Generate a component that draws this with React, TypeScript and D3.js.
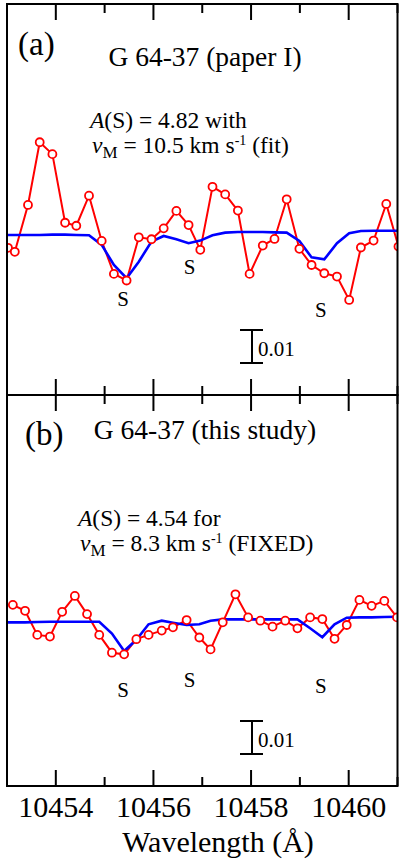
import React, { useEffect, useRef } from 'react';
import * as d3 from 'd3';

// wavelength grid (Å) and normalised flux
const wlA = [10453.02, 10453.16, 10453.43, 10453.67, 10453.93, 10454.19, 10454.42, 10454.68, 10454.94, 10455.19, 10455.45, 10455.70, 10455.96, 10456.21, 10456.47, 10456.72, 10456.96, 10457.21, 10457.47, 10457.73, 10457.97, 10458.24, 10458.48, 10458.73, 10458.99, 10459.24, 10459.50, 10459.76, 10460.01, 10460.25, 10460.51, 10460.77, 10461.02];
const obsA = [0.9956, 0.9944, 1.0086, 1.0276, 1.0240, 1.0032, 1.0023, 1.0114, 0.9977, 0.9877, 0.9857, 0.9988, 0.9982, 1.0015, 1.0068, 1.0025, 0.9950, 1.0141, 1.0118, 1.0069, 0.9877, 0.9963, 0.9983, 1.0103, 0.9953, 0.9904, 0.9879, 0.9869, 0.9798, 0.9957, 0.9978, 1.0089, 0.9960];
const modelA = [0.9995, 0.9995, 0.9995, 0.9995, 0.9996, 0.9996, 0.9995, 0.9994, 0.9965, 0.9904, 0.9864, 0.9914, 0.9975, 0.9992, 0.9982, 0.9970, 0.9978, 0.9994, 1.0002, 1.0004, 1.0004, 1.0004, 1.0003, 1.0002, 0.9977, 0.9927, 0.9921, 0.9970, 1.0000, 1.0007, 1.0008, 1.0008, 1.0008];

const wlB = [10453.12, 10453.37, 10453.62, 10453.88, 10454.13, 10454.39, 10454.64, 10454.89, 10455.15, 10455.40, 10455.65, 10455.90, 10456.17, 10456.40, 10456.68, 10456.94, 10457.17, 10457.42, 10457.68, 10457.94, 10458.19, 10458.44, 10458.70, 10458.95, 10459.21, 10459.46, 10459.71, 10459.96, 10460.22, 10460.47, 10460.73, 10460.99];
const obsB = [1.0059, 1.0041, 0.9968, 0.9963, 1.0038, 1.0086, 1.0031, 0.9968, 0.9914, 0.9909, 0.9955, 0.9968, 0.9981, 0.9991, 1.0013, 0.9960, 0.9924, 1.0006, 1.0091, 1.0021, 1.0011, 0.9993, 1.0011, 0.9988, 1.0021, 1.0016, 0.9956, 0.9998, 1.0074, 1.0056, 1.0071, 1.0021];
const wlModelB = [10453.00, 10453.12, 10453.37, 10453.62, 10453.88, 10454.13, 10454.39, 10454.64, 10454.89, 10455.15, 10455.40, 10455.65, 10455.90, 10456.17, 10456.40, 10456.68, 10456.94, 10457.17, 10457.42, 10457.68, 10457.94, 10458.19, 10458.44, 10458.70, 10458.95, 10459.21, 10459.46, 10459.71, 10459.96, 10460.22, 10460.47, 10460.73, 10460.99];
const modelB = [1.0006, 1.0006, 1.0006, 1.0007, 1.0008, 1.0008, 1.0008, 1.0008, 1.0008, 0.9972, 0.9919, 0.9953, 1.0000, 1.0011, 1.0005, 0.9998, 1.0000, 1.0011, 1.0015, 1.0015, 1.0015, 1.0015, 1.0015, 1.0015, 1.0015, 0.9988, 0.9961, 1.0000, 1.0020, 1.0021, 1.0021, 1.0022, 1.0023];

// S line markers: [wavelength, flux of label baseline]
const sLabelsA = [[10455.38, 0.9779], [10456.74, 0.9878], [10459.43, 0.9745]];
const sLabelsB = [[10455.38, 0.9779], [10456.74, 0.9809], [10459.43, 0.9791]];

const majorTicks = [10454, 10456, 10458, 10460];
const minorTicks = [10453, 10455, 10457, 10459, 10461];

const FONT = '"Liberation Serif", "Times New Roman", Times, serif';

const App = () => {
  const svgRef = useRef(null);

  useEffect(() => {
    const svg = d3.select(svgRef.current);
    svg.selectAll('*').remove();

    const left = 7, right = 397.5;
    const x = d3.scaleLinear().domain([10453, 10461]).range([left, right]);

    const panels = [
      { id: 'a', top: 4, bottom: 395, wl: wlA, obs: obsA, mwl: wlA, model: modelA, s: sLabelsA,
        label: '(a)', labelX: 18, labelY: 55, title: 'G 64-37 (paper I)', titleY: 66,
        annX: 90, annY: 128, ann1: '4.82 with', vM: '10.5', tail: ' (fit)' },
      { id: 'b', top: 395, bottom: 786, wl: wlB, obs: obsB, mwl: wlModelB, model: modelB, s: sLabelsB,
        label: '(b)', labelX: 25, labelY: 445, title: 'G 64-37 (this study)', titleY: 439,
        annX: 78, annY: 526, ann1: '4.54 for', vM: '8.3', tail: ' (FIXED)' }
    ];

    panels.forEach(p => {
      const y = d3.scaleLinear().domain([0.9510, 1.0695]).range([p.bottom, p.top]);
      const g = svg.append('g');

      g.append('clipPath').attr('id', 'clip-' + p.id)
        .append('rect').attr('x', left).attr('y', p.top)
        .attr('width', right - left).attr('height', p.bottom - p.top);

      const plot = g.append('g').attr('clip-path', `url(#clip-${p.id})`);

      const line = d3.line().x(d => x(d[0])).y(d => y(d[1]));

      const obsPts = p.wl.map((w, i) => [w, p.obs[i]]);
      const modPts = p.mwl.map((w, i) => [w, p.model[i]]);

      plot.append('path').datum(obsPts)
        .attr('d', line).attr('fill', 'none')
        .attr('stroke', '#ff0000').attr('stroke-width', 2);

      plot.append('path').datum(modPts)
        .attr('d', line).attr('fill', 'none')
        .attr('stroke', '#0000ff').attr('stroke-width', 2.6);

      plot.selectAll('circle').data(obsPts).enter().append('circle')
        .attr('cx', d => x(d[0])).attr('cy', d => y(d[1]))
        .attr('r', 4).attr('fill', 'white')
        .attr('stroke', '#ff0000').attr('stroke-width', 1.8);

      // frame
      g.append('rect').attr('x', left).attr('y', p.top)
        .attr('width', right - left).attr('height', p.bottom - p.top)
        .attr('fill', 'none').attr('stroke', 'black').attr('stroke-width', 2);

      // ticks top and bottom, pointing in
      const tk = (vals, len) => {
        vals.forEach(v => {
          g.append('line').attr('x1', x(v)).attr('x2', x(v))
            .attr('y1', p.top).attr('y2', p.top + len)
            .attr('stroke', 'black').attr('stroke-width', 2);
          g.append('line').attr('x1', x(v)).attr('x2', x(v))
            .attr('y1', p.bottom).attr('y2', p.bottom - len)
            .attr('stroke', 'black').attr('stroke-width', 2);
        });
      };
      tk(majorTicks, 16);
      tk(minorTicks, 9);

      // S labels
      p.s.forEach(([w, f]) => {
        g.append('text').attr('x', x(w)).attr('y', y(f))
          .attr('text-anchor', 'middle')
          .style('font-family', FONT).style('font-size', '21px')
          .text('S');
      });

      // 0.01 scale bar
      const bx = 252;
      const b0 = y(0.9707), b1 = y(0.9607);
      g.append('line').attr('x1', bx).attr('x2', bx).attr('y1', b0).attr('y2', b1)
        .attr('stroke', 'black').attr('stroke-width', 2);
      [b0, b1].forEach(yy => {
        g.append('line').attr('x1', bx - 12).attr('x2', bx + 11).attr('y1', yy).attr('y2', yy)
          .attr('stroke', 'black').attr('stroke-width', 2);
      });
      g.append('text').attr('x', 258).attr('y', b0 + 26)
        .style('font-family', FONT).style('font-size', '21px')
        .text('0.01');

      // panel label and title
      g.append('text').attr('x', p.labelX).attr('y', p.labelY)
        .style('font-family', FONT).style('font-size', '33px')
        .text(p.label);
      g.append('text').attr('x', 205).attr('y', p.titleY)
        .attr('text-anchor', 'middle')
        .style('font-family', FONT).style('font-size', '27.5px')
        .text(p.title);

      // abundance annotation
      const t1 = g.append('text').attr('x', p.annX).attr('y', p.annY)
        .style('font-family', FONT).style('font-size', '23.5px');
      t1.append('tspan').style('font-style', 'italic').text('A');
      t1.append('tspan').text('(S) = ' + p.ann1);

      const t2 = g.append('text').attr('x', p.annX + 2).attr('y', p.annY + 25)
        .style('font-family', FONT).style('font-size', '23.5px');
      t2.append('tspan').style('font-style', 'italic').text('v');
      t2.append('tspan').attr('dy', 5).style('font-size', '17px').text('M');
      t2.append('tspan').attr('dy', -5).text(' = ' + p.vM + ' km s');
      t2.append('tspan').attr('dy', -8).style('font-size', '14px').text('-1');
      t2.append('tspan').attr('dy', 8).text(p.tail);
    });

    // x tick labels and axis title
    majorTicks.forEach(v => {
      svg.append('text').attr('x', x(v)).attr('y', 817)
        .attr('text-anchor', 'middle')
        .style('font-family', FONT).style('font-size', '30px')
        .text(String(v));
    });
    svg.append('text').attr('x', 218).attr('y', 852)
      .attr('text-anchor', 'middle')
      .style('font-family', FONT).style('font-size', '30px')
      .text('Wavelength (Å)');
  }, []);

  return (
    <svg
      ref={svgRef}
      width={399}
      height={860}
      style={{ position: 'absolute', left: 0, top: 0, background: 'white' }}
    />
  );
};

export default App;
